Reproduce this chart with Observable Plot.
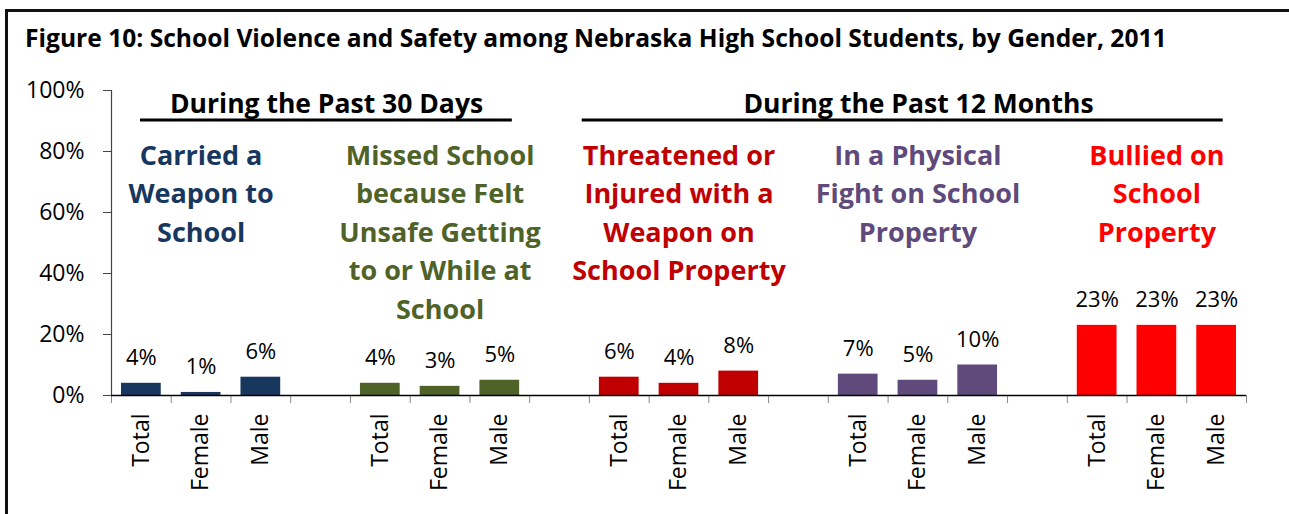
<!DOCTYPE html>
<html>
<head>
<meta charset="utf-8">
<script src="https://cdn.jsdelivr.net/npm/d3@7"></script>
<script src="https://cdn.jsdelivr.net/npm/@observablehq/plot@0.6"></script>
<style>
  html, body { margin: 0; padding: 0; background: #fff; }
  #wrap { position: relative; width: 1289px; height: 514px; overflow: hidden; }
  #border { position: absolute; left: 5px; top: 9px; width: 1300px; height: 520px;
            border-top: 3px solid #111; border-left: 3px solid #111; box-sizing: border-box; }
  #title { position: absolute; left: 25px; top: 21px; font-family: "Open Sans", sans-serif;
           font-weight: bold; font-size: 24.6px; color: #000; white-space: nowrap; }
  #chart { position: absolute; left: 0; top: 0; }
</style>
</head>
<body>
<div id="wrap">
  <div id="chart"></div>
  <div id="border"></div>
  <div id="title">Figure 10: School Violence and Safety among Nebraska High School Students, by Gender, 2011</div>
</div>
<script>
// ---- data ----
const groups = [
  "Carried a\nWeapon to\nSchool",
  "Missed School\nbecause Felt\nUnsafe Getting\nto or While at\nSchool",
  "Threatened or\nInjured with a\nWeapon on\nSchool Property",
  "In a Physical\nFight on School\nProperty",
  "Bullied on\nSchool\nProperty"
];
const genders = ["Total", "Female", "Male"];
const values = [
  [4, 1, 6],
  [4, 3, 5],
  [6, 4, 8],
  [7, 5, 10],
  [23, 23, 23]
];
const groupColors = ["#17375E", "#4F6228", "#C00000", "#604A7B", "#FF0000"];
const headers = ["During the Past 30 Days", "During the Past 12 Months"];
const yTicks = [0, 20, 40, 60, 80, 100];

// ---- table ----
const rows = [];
values.forEach((vals, g) => vals.forEach((v, j) => rows.push({
  group: g, gender: genders[j], value: v, slot: g * 4 + j, color: groupColors[g]
})));
const nSlots = groups.length * 4 - 1;
const font = "'Open Sans', sans-serif";

const chart = Plot.plot({
  width: 1289,
  height: 514,
  marginLeft: 111,
  marginRight: 43,
  marginTop: 90,
  marginBottom: 119,
  x: { domain: [0, nSlots], axis: null },
  y: { domain: [0, 100], axis: null },
  color: { type: "identity" },
  style: { fontFamily: font, background: "transparent" },
  marks: [
    // y axis
    Plot.axisY({ ticks: yTicks, tickFormat: d => d + "%", tickSize: 8, tickPadding: 19,
                 fontSize: 23, stroke: "#444", fill: "#000", label: null }),
    Plot.ruleX([0], { stroke: "#444", strokeWidth: 1.2 }),
    // x boundary ticks
    Plot.axisX({ ticks: d3.range(0, nSlots + 1), tickFormat: () => "", tickSize: 8,
                 stroke: "#888", label: null }),
    // x labels
    Plot.axisX({ ticks: rows.map(d => d.slot + 0.5), tickFormat: d => genders[Math.floor(d) % 4],
                 tickSize: 0, tickPadding: 18, tickRotate: -90, fontSize: 23,
                 fill: "#000", label: null }),
    // bars
    Plot.rectY(rows, { x1: "slot", x2: d => d.slot + 1, y: "value", fill: "color",
                       insetLeft: 10, insetRight: 10 }),
    Plot.ruleY([0], { stroke: "#000", strokeWidth: 1.5 }),
    // value labels
    Plot.text(rows, { x: d => d.slot + 0.5, y: "value", text: d => d.value + "%",
                      lineAnchor: "bottom", dy: -18, fontSize: 22, fill: "#000" }),
    // group labels
    Plot.text(groups, { x: (d, i) => i * 4 + 1.5, y: 84.6, text: d => d,
                        fill: (d, i) => groupColors[i], lineAnchor: "top", lineHeight: 1.426,
                        fontSize: 27, fontWeight: "bold" }),
    // section headers
    Plot.text([headers[0]], { x: 3.6, y: 92.5, text: d => d, lineAnchor: "bottom",
                              fontSize: 26.5, fontWeight: "bold", fill: "#000" }),
    Plot.text([headers[1]], { x: 13.51, y: 92.5, text: d => d, lineAnchor: "bottom",
                              fontSize: 26.5, fontWeight: "bold", fill: "#000" }),
    Plot.ruleY([90.3], { x1: 0.485, x2: 6.71, stroke: "#000", strokeWidth: 3 }),
    Plot.ruleY([90.3], { x1: 7.88, x2: 18.61, stroke: "#000", strokeWidth: 3 })
  ]
});
document.getElementById("chart").appendChild(chart);
</script>
</body>
</html>
